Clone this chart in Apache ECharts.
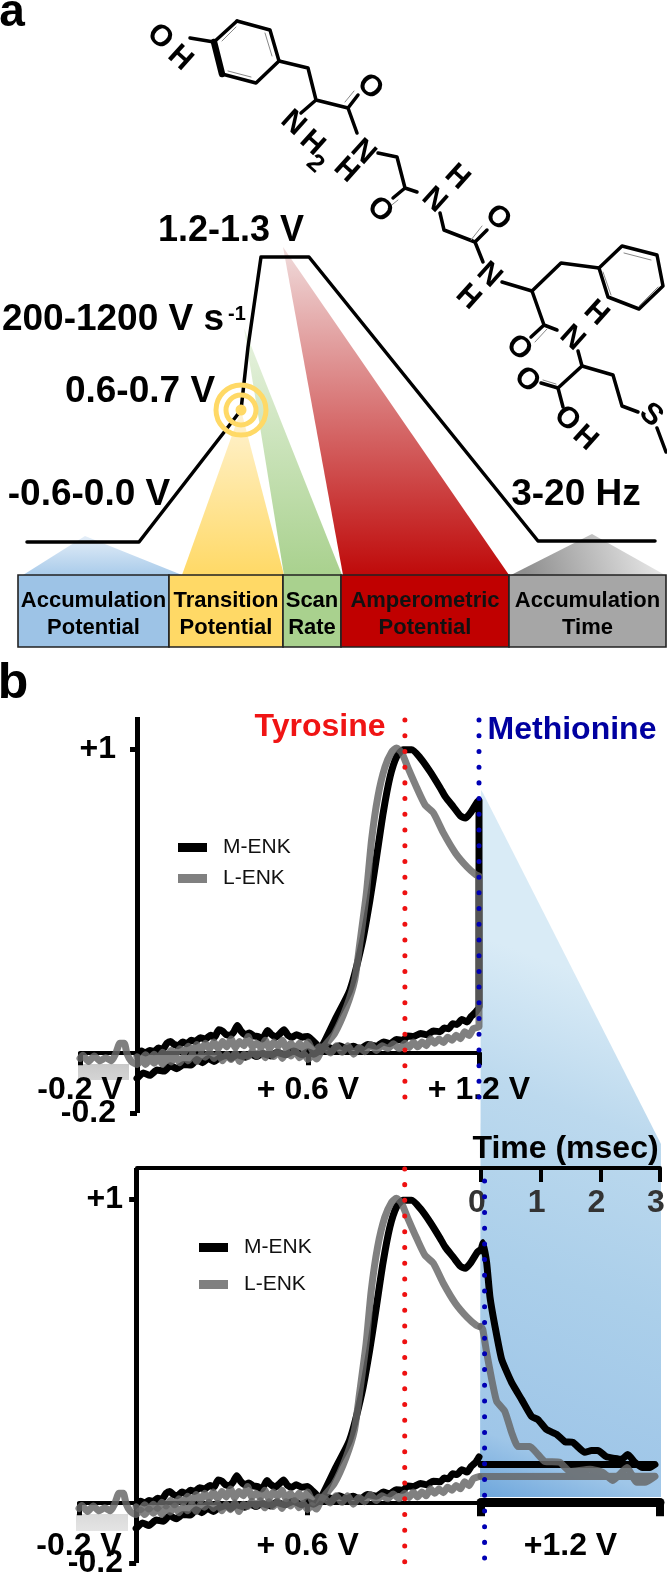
<!DOCTYPE html>
<html><head><meta charset="utf-8">
<style>html,body{margin:0;padding:0;background:#fff}#c{width:667px;height:1575px}</style>
<script src="https://cdn.jsdelivr.net/npm/echarts@6/dist/echarts.min.js"></script>
</head><body><div id="c"></div>
<script>
// ---------- panel b data: [potential V, normalised current] ----------
const mForward=[[0,-.006],[.015,.004],[.03,-.002],[.045,.006],[.06,.002],[.075,.014],[.09,.01],[.105,.03],[.118,.036],[.13,.026],[.145,.022],[.16,.034],[.175,.028],[.19,.04],[.205,.036],[.222,.048],[.24,.044],[.258,.056],[.272,.05],[.287,.074],[.3,.07],[.313,.058],[.328,.056],[.34,.068],[.352,.088],[.365,.07],[.38,.058],[.395,.064],[.41,.054],[.425,.052],[.44,.044],[.458,.072],[.47,.06],[.487,.05],[.5,.06],[.516,.074],[.53,.056],[.545,.05],[.56,.058],[.58,.05],[.599,.052],[.615,.04],[.63,.026],[.643,.014],[.655,.03],[.70,.117],[.747,.205],[.79,.36],[.817,.50],[.84,.64],[.864,.79],[.888,.908],[.911,.974],[.934,.997],[.964,.997],[.994,.97],[1.029,.924],[1.064,.871],[1.082,.842],[1.11,.809],[1.135,.779],[1.152,.772],[1.17,.789],[1.194,.825],[1.2,.83]];
const mReturn=[[1.2,.15],[1.188,.132],[1.172,.118],[1.158,.1],[1.14,.108],[1.123,.092],[1.108,.094],[1.093,.078],[1.078,.08],[1.064,.068],[1.04,.07],[1.017,.058],[.995,.062],[.97,.052],[.95,.054],[.934,.04],[.91,.042],[.888,.028],[.865,.034],[.841,.02],[.81,.026],[.782,.01],[.76,.02],[.735,.012],[.71,.022],[.687,.012],[.665,.018],[.64,.005],[.62,-.006],[.6,.002],[.58,-.008],[.55,.004],[.52,-.008],[.49,.0],[.47,-.012],[.44,-.004],[.42,-.014],[.399,-.006],[.38,-.016],[.35,-.008],[.33,-.02],[.317,-.01],[.29,-.018],[.27,-.03],[.25,-.02],[.23,-.034],[.21,-.024],[.19,-.042],[.164,-.04],[.14,-.054],[.117,-.044],[.095,-.062],[.07,-.058],[.045,-.076],[.022,-.068],[0,-.086]];
const lForward=[[-.2,-.02],[-.19,-.01],[-.17,-.03],[-.15,-.012],[-.13,-.028],[-.11,-.018],[-.09,-.028],[-.075,-.005],[-.06,.03],[-.045,.03],[-.035,-.005],[-.02,-.03],[0,-.04],[.015,-.025],[.03,-.04],[.045,-.022],[.06,-.036],[.075,-.02],[.09,-.04],[.105,-.018],[.12,-.032],[.135,-.012],[.15,-.034],[.165,-.014],[.18,-.028],[.195,-.006],[.21,-.03],[.225,-.008],[.24,-.016],[.255,.0],[.27,-.02],[.285,-.004],[.3,-.028],[.315,-.006],[.33,-.024],[.345,-.002],[.36,-.03],[.375,-.006],[.39,-.014],[.405,.004],[.42,-.012],[.435,.005],[.45,-.018],[.465,.002],[.48,-.014],[.495,.004],[.51,-.02],[.525,.002],[.54,-.012],[.555,.006],[.57,-.018],[.585,-.004],[.6,-.024],[.615,-.01],[.63,-.022],[.651,.013],[.694,.063],[.735,.149],[.764,.238],[.782,.36],[.805,.525],[.823,.70],[.845,.842],[.87,.94],[.894,.99],[.911,1.003],[.929,.987],[.951,.937],[.982,.871],[1.011,.815],[1.04,.789],[1.075,.723],[1.117,.657],[1.158,.611],[1.19,.584],[1.2,.58]];
const lReturn=[[1.2,.085],[1.18,.078],[1.165,.055],[1.15,.068],[1.135,.045],[1.12,.056],[1.105,.04],[1.09,.05],[1.075,.032],[1.06,.044],[1.045,.03],[1.03,.045],[1.015,.022],[1.0,.034],[.985,.018],[.97,.034],[.955,.016],[.94,.03],[.92,.012],[.9,.028],[.88,.012],[.86,.022],[.84,.006],[.82,.026],[.8,.002],[.78,.016],[.76,-.006],[.74,.022],[.72,0],[.7,.022],[.68,-.002],[.66,.012],[.64,.018],[.62,.0],[.6,.034],[.585,.012],[.57,.03],[.555,.008],[.54,.03],[.525,.012],[.51,.04],[.495,.02],[.48,.034],[.465,.012],[.45,.04],[.435,.016],[.42,.03],[.405,.018],[.39,.052],[.375,.022],[.36,.036],[.345,.016],[.33,.044],[.315,.018],[.3,.036],[.285,.012],[.27,.034],[.255,.012],[.24,.03],[.225,.006],[.21,.026],[.195,.004],[.18,.02],[.165,.0],[.15,.012],[.135,-.008],[.12,.006],[.105,-.012],[.09,.0],[.075,-.02],[.06,-.006],[.045,-.022],[.03,-.008],[.015,-.024],[0,-.015]];
// decay after the step: [time ms, normalised current]
const mDecay=[[0,.83],[.03,.857],[.095,.79],[.15,.678],[.235,.58],[.347,.471],[.514,.395],[.682,.339],[.849,.283],[.955,.273],[1.1,.24],[1.27,.224],[1.407,.2],[1.54,.198],[1.74,.165],[1.854,.171],[1.96,.171],[2.1,.151],[2.245,.145],[2.357,.142],[2.46,.158],[2.58,.132],[2.71,.115],[2.83,.115],[2.915,.125],[0,.125]];
const lDecay=[[0,.58],[.03,.57],[.095,.494],[.18,.405],[.263,.333],[.4,.3],[.514,.23],[.62,.184],[.82,.184],[.955,.158],[1.07,.135],[1.32,.132],[1.49,.102],[1.826,.109],[2.04,.099],[2.21,.072],[2.446,.115],[2.61,.066],[2.747,.066],[2.915,.086],[0,.085]];
const mStep=[[1.2,.83],[1.2,.15]];
const lStep=[[1.2,.58],[1.2,.085]];
const tyrosineV=.94, methionineV=1.2, methionineMs=.06;
const yTicks=[-0.2,1], yTickLabels=['-0.2','+1'];
const xTicks=[-0.2,.6,1.2], xTickLabels1=['-0.2 V','+ 0.6 V','+ 1.2 V'], xTickLabels2=['-0.2 V','+ 0.6 V',''];
const timeTicks=[0,1,2,3];

// ---------- panel a: schematic, in page units ----------
const waveform=[[27,542],[139,542],[225,431],[241,410],[248,347],[261,257],[309,257],[538,541],[655,541]];
const boxes=[
 {name:['Accumulation','Potential'],x:[18,169],color:'#9dc3e6',text:'#000'},
 {name:['Transition','Potential'],x:[169,283],color:'#ffd966',text:'#000'},
 {name:['Scan','Rate'],x:[283,341],color:'#a9d18e',text:'#000'},
 {name:['Amperometric','Potential'],x:[341,509],color:'#c00000',text:'#111'},
 {name:['Accumulation','Time'],x:[509,666],color:'#a6a6a6',text:'#000'}];
const boxY=[575,647];
const wedges=[
 {pts:[[85,536],[23,575],[182,575]],stops:[[0,'#e4eef8'],[1,'#a9cbea']],dir:[0,0,0,1]},
 {pts:[[241,410],[182,575],[284,575]],stops:[[0,'#fff3d3'],[1,'#ffd966']],dir:[0,0,0,1]},
 {pts:[[244,328],[284,575],[342,575]],stops:[[0,'#e8f3e1'],[1,'#a9d18e']],dir:[0,0,0,1]},
 {pts:[[283,247],[343,575],[509,575]],stops:[[0,'#f0dcdc'],[1,'#bf0a0a']],dir:[0,0,0,1]},
 {pts:[[592,534],[511,575],[665,575]],stops:[[0,'#e6e6e6'],[1,'#8f8f8f']],dir:[.9,0,.1,1]},
 {pts:[[481,790],[483,793],[661,1144],[661,1497],[480,1497]],stops:[[0,'#d9ebf6'],[.25,'#bcd9ee'],[.56,'#abcfea'],[.88,'#9fc6e8'],[1,'#6da6dc']],dir:[1,.3,0,1]},
 {pts:[[78,1064],[129,1064],[129,1080],[78,1080]],stops:[[0,'#c9c9c9'],[1,'#d4d4d4']],dir:[0,0,0,1]},
 {pts:[[76,1514],[128,1514],[128,1531],[76,1531]],stops:[[0,'#dadada'],[1,'#e4e4e4']],dir:[0,0,0,1]}];
const bonds=[
 [[237,21],[270,30],[279,61],[256,83],[222,74]],[[214,42],[237,21]],[[214,42],[190,38]],
 [[279,61],[308,68],[316,100],[348,108],[357,133]],[[316,100],[301,113]],[[348,108],[358,95]],
 [[378,153],[397,157],[405,188],[417,192]],[[405,188],[393,198]],
 [[440,213],[444,230],[475,242],[483,262]],[[475,242],[487,230]],
 [[502,282],[532,291],[561,263],[599,268]],[[599,268],[622,246],[657,255],[663,286],[639,309],[608,297],[599,268]],
 [[532,291],[544,325],[557,330]],[[544,325],[531,337]],
 [[578,351],[582,366],[558,388],[563,407]],[[558,388],[541,383]],
 [[582,366],[613,375],[622,406],[638,412]],[[657,428],[666,452]]];
const wedgeBond=[[214,42],[222,74]];
const thinBonds=[[[236,27],[222,41]],[[272,56],[265,33]],[[251,77],[228,71]],[[624,253],[651,260]],[[603,272],[611,295]],[[639,306],[658,287]],
 [[345,102],[354,91]],[[398,200],[388,208]],[[471,240],[482,226]],[[547,329],[535,342]],[[556,384],[543,380]]];
const atoms=[['O',160,37],['H',180,58],['N',293,123],['H',312,143],['2',315,164],['O',370,87],['N',363,152],['H',346,170],
 ['O',380,210],['N',434,200],['H',457,177],['O',498,218],['N',489,275],['H',468,297],['O',519,348],['N',572,338],['H',596,313],
 ['O',527,380],['O',567,419],['H',585,438],['S',651,415]];
const rings=[[241,410,50,false],[241,410,30,false],[241,410,11,true]];
const topFrame=[[137,1168],[481,1168]];
const pageTexts=[
 ['a',12,13,46,'#000','bold'],['b',13,684,50,'#000','bold'],
 ['1.2-1.3 V',231,231,36,'#000','bold'],['200-1200 V s',113,320,37,'#000','bold'],['-1',237,314,20,'#000','bold'],
 ['0.6-0.7 V',140,392,37,'#000','bold'],['-0.6-0.0 V',89,495,37,'#000','bold'],['3-20 Hz',576,495,37,'#000','bold'],
 ['Tyrosine',320,727,32,'#f01414','bold'],['Methionine',572,730,32,'#0000a0','bold']];

// ---------- build ----------
const FONT='"Liberation Sans",Arial,sans-serif';
const G=echarts.graphic;
function gradient(w){const d=w.dir;return new G.LinearGradient(d[0],d[1],d[2],d[3],w.stops.map(s=>({offset:s[0],color:s[1]})));}
function polyLine(pts,w,c,z){return {type:'line',xAxisIndex:0,yAxisIndex:0,data:pts,symbol:'none',silent:true,animation:false,z:z||4,lineStyle:{width:w,color:c,cap:'round',join:'round'}};}
const M='#000', L='rgba(102,102,102,.83)', LW=7;
function curve(name,data,xi,yi,c,z,smooth){return {name,type:'line',xAxisIndex:xi,yAxisIndex:yi,data,symbol:'none',smooth:smooth===undefined?.2:smooth,clip:false,animation:false,z,lineStyle:{width:LW,color:c,cap:'round',join:'round'},itemStyle:{color:c}};}
function dots(data,xi,yi,c){return {type:'line',xAxisIndex:xi,yAxisIndex:yi,data,symbol:'none',clip:false,animation:false,silent:true,z:9,lineStyle:{width:5,color:c,cap:'round',type:[.01,15.7]}};}

const series=[];
series.push({type:'custom',xAxisIndex:0,yAxisIndex:0,z:1,clip:false,silent:true,animation:false,data:wedges.map((_,i)=>i),
 renderItem:(p,api)=>{const w=wedges[api.value(0)];return {type:'polygon',shape:{points:w.pts.map(q=>api.coord(q))},style:{fill:gradient(w)}};}});
series.push({type:'custom',xAxisIndex:0,yAxisIndex:0,z:2,clip:false,silent:true,animation:false,data:boxes.map((_,i)=>i),
 renderItem:(p,api)=>{const b=boxes[api.value(0)];const a=api.coord([b.x[0],boxY[0]]),e=api.coord([b.x[1],boxY[1]]);
  return {type:'rect',shape:{x:a[0],y:a[1],width:e[0]-a[0],height:e[1]-a[1]},style:{fill:b.color,stroke:'#222',lineWidth:1.6}};}});
series.push(polyLine(waveform,3.5,'#000',3));
bonds.forEach(b=>series.push(polyLine(b,3.5,'#000')));
series.push(polyLine(wedgeBond,6.5,'#000'));
thinBonds.forEach(b=>series.push(polyLine(b,1,'#888')));
series.push(polyLine(topFrame,4,'#000'));
series.push({type:'scatter',xAxisIndex:0,yAxisIndex:0,silent:true,animation:false,z:5,data:rings.map(r=>({value:[r[0],r[1]],symbolSize:r[2],itemStyle:{opacity:1,color:r[3]?'#ffd966':'rgba(0,0,0,0)',borderColor:'#ffd966',borderWidth:r[3]?0:5}}))});
function textPoint(t,x,y,size,color,weight,rot){return {value:[x,y],symbolSize:1,itemStyle:{opacity:1,color:'rgba(0,0,0,0)'},label:{show:true,opacity:1,position:'inside',formatter:t,fontSize:size,color:color,fontWeight:weight,fontFamily:FONT,rotate:rot||0,align:'center',verticalAlign:'middle'}};}
const tx=[];
pageTexts.forEach(t=>tx.push(textPoint(t[0],t[1],t[2],t[3],t[4],t[5])));
atoms.forEach(a=>tx.push(textPoint(a[0],a[1],a[2],a[0]==='2'?25:30,'#000','bold',-42)));
boxes.forEach(b=>{const cx=(b.x[0]+b.x[1])/2;tx.push(textPoint(b.name[0],cx,601,22,b.text,'bold'));tx.push(textPoint(b.name[1],cx,628,22,b.text,'bold'));});
series.push({type:'scatter',xAxisIndex:0,yAxisIndex:0,silent:true,animation:false,z:12,itemStyle:{opacity:1},data:tx});

// plot 1
series.push(curve('M-ENK',mForward.concat(mStep.slice(1)).concat(mReturn),1,1,M,5));
series.push(curve('L-ENK',lForward.concat(lStep.slice(1)).concat(lReturn),1,1,L,6));
series.push(dots([[tyrosineV,1.095],[tyrosineV,-.198]],1,1,'#ee1111'));
series.push(dots([[methionineV,1.095],[methionineV,-.198]],1,1,'#0000b4'));
// plot 2
series.push(curve('M-ENK',mForward,2,2,M,5));
series.push(curve('M-ENK',mReturn,2,2,M,5));
series.push(curve('L-ENK',lForward,2,2,L,6));
series.push(curve('L-ENK',lReturn,2,2,L,6));
series.push(curve('M-ENK',mDecay,3,3,M,5,.15));
series.push(curve('L-ENK',lDecay,3,3,L,6,.15));
series.push(dots([[tyrosineV,1.1],[tyrosineV,-.2]],2,2,'#ee1111'));
series.push(dots([[methionineMs,1.06],[methionineMs,-.2]],3,3,'#0000b4'));

const lbl=(size,margin,extra)=>Object.assign({fontSize:size,fontWeight:'bold',color:'#000',fontFamily:FONT,margin,hideOverlap:false},extra||{});
function vAxis(grid,max,m1){return {gridIndex:grid,type:'value',min:-0.2,max,z:3,splitLine:{show:false},
 axisLine:{show:true,onZero:true,lineStyle:{width:5,color:'#000',cap:'butt'}},axisTick:{show:true,length:7,lineStyle:{width:5,color:'#000'},customValues:yTicks},
 axisLabel:lbl(32,m1,{padding:[8,0,0,0],customValues:yTicks,formatter:v=>yTickLabels[yTicks.findIndex(t=>Math.abs(t-v)<1e-6)]})};}
function hAxis(grid,labels,margin){return {gridIndex:grid,type:'value',min:-0.2,max:1.2,z:3,splitLine:{show:false},
 axisLine:{show:true,onZero:true,lineStyle:{width:4,color:'#000'}},axisTick:{show:true,length:13,lineStyle:{width:5,color:'#000'},customValues:xTicks},
 axisLabel:lbl(32,margin,{customValues:xTicks,formatter:v=>labels[xTicks.findIndex(t=>Math.abs(t-v)<1e-6)]})};}

const legendText=()=>({fontSize:21,color:'#111',fontFamily:FONT,padding:[0,0,0,11]});
const gridBase={outerBoundsMode:'none',containLabel:false};
echarts.init(document.getElementById('c'),null,{renderer:'canvas'}).setOption({
 animation:false,backgroundColor:'#fff',textStyle:{fontFamily:FONT},
 grid:[
  Object.assign({left:0,top:0,width:667,height:1575},gridBase),
  Object.assign({left:80,top:717,width:399,height:396},gridBase),
  Object.assign({left:79,top:1168,width:400,height:395},gridBase),
  Object.assign({left:481,top:1168,width:179,height:395},gridBase)],
 xAxis:[
  {gridIndex:0,type:'value',min:0,max:667,show:false},
  hAxis(1,xTickLabels1,-39),
  hAxis(2,xTickLabels2,-33),
  {gridIndex:3,type:'value',min:0,max:3,z:3,position:'top',name:'Time (msec)',nameLocation:'middle',nameGap:3,
   nameTextStyle:{fontSize:32,fontWeight:'bold',color:'#000',fontFamily:FONT,padding:[0,10,0,0]},splitLine:{show:false},
   axisLine:{show:true,onZero:false,lineStyle:{width:4,color:'#000'}},
   axisTick:{show:true,inside:true,length:14,lineStyle:{width:4,color:'#000'},customValues:timeTicks},
   axisLabel:lbl(32,19,{inside:true,color:'#333',padding:[0,8,0,0],customValues:timeTicks,formatter:v=>String(v)})},
  {gridIndex:3,type:'value',min:0,max:3,z:3,position:'bottom',splitLine:{show:false},
   axisLine:{show:true,onZero:true,lineStyle:{width:9,color:'#000'}},
   axisTick:{show:true,length:14,lineStyle:{width:8,color:'#000'},customValues:[0,3]},
   axisLabel:lbl(32,-33,{customValues:[1.5],formatter:()=> '+1.2 V'})}],
 yAxis:[
  {gridIndex:0,type:'value',min:0,max:1575,inverse:true,show:false},
  vAxis(1,1.105,-36),
  vAxis(2,1.103,-44),
  {gridIndex:3,type:'value',min:-0.2,max:1.103,show:false}],
 legend:[
  {show:true,data:['M-ENK','L-ENK'],orient:'vertical',padding:0,left:178,top:837,itemWidth:29,itemHeight:9,itemGap:10,icon:'rect',textStyle:legendText(),selectedMode:false},
  {show:true,data:['M-ENK','L-ENK'],orient:'vertical',padding:0,left:199,top:1237,itemWidth:29,itemHeight:9,itemGap:16,icon:'rect',textStyle:legendText(),selectedMode:false}],
 series:series
});
</script></body></html>
